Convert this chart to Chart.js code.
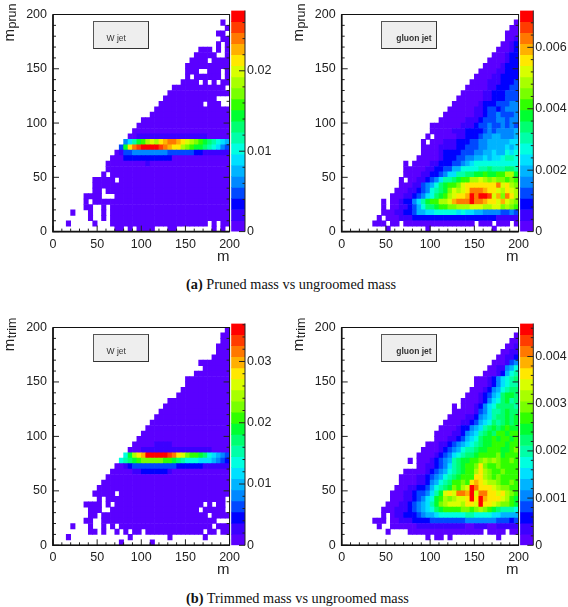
<!DOCTYPE html>
<html><head><meta charset="utf-8">
<script src="https://cdn.jsdelivr.net/npm/chart.js@4"></script>
<style>
html,body{margin:0;padding:0;background:#fff;width:568px;height:607px;overflow:hidden}
canvas{position:absolute}
.ytitle{position:absolute;writing-mode:vertical-rl;transform:rotate(180deg);font:15px "Liberation Sans",sans-serif;color:#222;white-space:nowrap;line-height:15px}
.ytitle span{font-size:12.5px;position:relative;left:-3px}
.box{position:absolute;box-sizing:border-box;background:#eee;border:1px solid #555;border-right:1.5px solid #333;border-bottom:1.5px solid #333;font:8.5px "Liberation Sans",sans-serif;color:#333;height:28px;width:56px}
.box b,.box i{position:absolute;top:11px;font-style:normal;white-space:nowrap}
.cap{position:absolute;font:14.3px "Liberation Serif",serif;color:#111;white-space:nowrap}
</style></head><body>
<script>
const BIN = 5;
const TICKS_MAJOR = [0, 50, 100, 150, 200];
const TICKS_MINOR = [10, 20, 30, 40, 60, 70, 80, 90, 110, 120, 130, 140, 160, 170, 180, 190];
const PALETTE = ['#5a00ff','#3c00ff','#0000ff','#0048ff','#0088ff','#00b4ff','#00e0ff','#00ffe0','#00ffa8','#00ff70',
                 '#00ff30','#30ff00','#78ff00','#a8ff00','#d8ff00','#ffe800','#ffb000','#ff7800','#ff3c00','#ff0000'];
// Cell levels, one string per m-groomed row from 195-200 down to 0-5, one char per m bin; "." = empty.
const W_PRUN = [
".......... .......... .......... ..........",
".......... .......... .......... ........0.",
".......... .......... .......... .........0",
".......... .......... .......... .......00.",
".......... .......... .......... ........00",
".......... .......... .......... .......0.0",
".......... .......... .......... ...000.0.0",
".......... .......... .......... ..00000..0",
".......... .......... .......... .0000.0000",
".......... .......... .......... 0000000000",
".......... .......... .......... 000..000.0",
".......... .......... .......... 0.000000.0",
".......... .......... .........0 000.0.0.00",
".......... .......... .......000 000000000.",
".......... .......... ......0000 0000000000",
".......... .......... .....00000 0000000...",
".......... .......... ....000000 0000.000..",
".......... .......... ...0000000 0000000000",
".......... .......... ..00000000 0000000000",
".......... .......... 0000000000 0000000000",
".......... .........0 0000000000 0000000000",
".......... ........00 0000000000 0000000000",
".......... .......001 1111111111 1111100000",
".......... ......468a bdedfghhgf edcba98765",
".......... .....3afhi jjjjihgffd cbaa987643",
".......... ....013344 4444443333 3322111111",
".......... ...0002222 2222222000 0000000000",
".......... ..00000000 0100000000 0000000000",
".......... ..00000000 0000000000 0000000000",
".......... .0.0000000 0000000000 0000000000",
".........0 0000.00000 0000000000 0000000000",
".........0 0000000000 0000000000 0000000000",
".........0 0.00000000 0000000000 0000000000",
".......000 0...000000 0000000000 0000000000",
".......0.0 0000000000 0000000000 0000000000",
".......00. .0.0000000 0000000000 0000000000",
"....0...0. .0.0000000 0000000000 0000000000",
"........0. .0.0000000 0000000000 0000000000",
"...0.....0 ...0000000 0000000000 00000.0.00",
".......... ....00.0.0 000...00.. ......0.0."];
const G_PRUN = [
".......... .......... .......... ..........",
".......... .......... .......... .........0",
".......... .......... .......... ........00",
".......... .......... .......... .......000",
".......... .......... .......... .......001",
".......... .......... .......... ......0012",
".......... .......... .......... .....00012",
".......... .......... .......... ....000122",
".......... .......... .......... ...0000122",
".......... .......... .......... ..00001222",
".......... .......... .......... .000011222",
".......... .......... .......... 0000112222",
".......... .......... .........0 0001112223",
".......... .......... ........00 0001122233",
".......... .......... .......000 0011222333",
".......... .......... ......0000 0011222333",
".......... .......... .....00000 0122233344",
".......... .......... ....000000 1123323444",
".......... .......... ...0000000 1123343334",
".......... .......... ..00000011 1233344344",
".......... .......... 0000000111 2334334343",
".......... .......... 0000011122 2234344445",
".......... .........0 .000001122 2344554445",
".......... ........0. 0001112223 3445555566",
".......... ........00 0011112233 3445555656",
".......... ........00 0012222333 4455655767",
".......... .......000 0012223344 5565667887",
".......... ....0.0000 1122233456 7777777777",
".......... ....000001 1223355777 7889888998",
".......... ....000011 2234668899 aabaabbdda",
".......... ...0.00112 346889abbd dedcdccbcb",
".......... ...0001134 579abbceff fffffhefdc",
".......... ..00011234 789acedefh hhgffedfed",
".......... .000112346 79abdeffgj hjjiegchfd",
".........0 .00122468a bbddeghhhj hhgffegedc",
".........0 .001123579 9abbccddde eeddeecdcb",
".........0 0011223556 6777776766 5544443343",
"........0. 0001112222 2222222222 2222211111",
".......000 .00.000000 0000000000 .000.000.0",
".......... 0........0 .......... ....0....."];
const W_TRIM = [
".......... .......... .......... .........0",
".......... .......... .......... ........00",
".......... .......... .......... ........00",
".......... .......... .......... .......000",
".......... .......... .......... .......000",
".......... .......... .......... ......0000",
".......... .......... .......... ...0000000",
".......... .......... .......... ....000000",
".......... .......... .......... ..00000000",
".......... .......... .......... 0000000000",
".......... .......... .......... 0000000000",
".......... .......... .........0 0000000000",
".......... .......... ........00 0000000000",
".......... .......... ......0000 0000000000",
".......... .......... .....00000 0000000000",
".......... .......... ....000000 0000000000",
".......... .......... ...0000000 0000000000",
".......... .......... ..00000000 0000000000",
".......... .......... .000000000 0000000000",
".......... .......... 0000000000 0000000000",
".......... .........0 0000000000 0000000000",
".......... ........00 0001111000 0000000000",
".......... .......000 1111111111 1111110000",
".......... ......7adf gjjjjjihfe cbba976543",
".......... .....789ab cccccbba98 7776665432",
".......... ....001233 3333333322 2222111111",
".......... ...0000011 2222221000 0000000000",
".......... ..00000000 0000000000 0000000000",
".......... .000000000 0000000000 0000000000",
".......... 0000000000 0000000000 0000000000",
".........0 0000.00000 0000000000 0000000000",
".......... 0.00000000 0000000000 000000000.",
".......000 0.0.000000 0000000000 0000.0.00.",
"........00 0..0000000 0000000000 000.00000.",
"........00 .000000000 0000000000 00000.0000",
".......00. .000000000 0000000000 0000000...",
"....0...0. .0.0.00000 0000000000 000000.000",
"........00 .0..0.0.00 .000000000 0000.00.00",
"...0...... .......0.. ......0... ....0.....",
".......... .....0.... ..0....... .........."];
const G_TRIM = [
".......... .......... .......... ..........",
".......... .......... .......... .........0",
".......... .......... .......... ........00",
".......... .......... .......... .......001",
".......... .......... .......... ......0011",
".......... .......... .......... .....00112",
".......... .......... .......... ....000134",
".......... .......... .......... ...0011457",
".......... .......... .......... ..00012578",
".......... .......... .......... 0001246789",
".......... .......... .......... 0001246788",
".......... .......... .........0 0012457899",
".......... .......... ........00 0123569aa9",
".......... .......... .......000 0124679a89",
".......... .......... .....0.000 1246799998",
".......... .......... .....00000 1346889a99",
".......... .......... ....000011 2456899a9a",
".......... .......... ...0000112 3567989a9a",
".......... .......... ..00001224 5689a9abaa",
".......... .......... .000011245 689a9bbabb",
".......... .......... .000112356 79aababbab",
".......... .........0 0011234567 89aabbbabb",
".......... ........00 0012345788 9aabbbaabc",
".......... .......000 0123467899 abbbbcabbb",
".......... .....0.000 1234589aab bcdcdcbbcb",
".......... .......001 1234689abb cfcbbcbbbb",
".......... ....000001 2345789abb dfdcbbcbbb",
".......... ...0000112 345789abbb ffdcbcbbbb",
".......... ...0000112 45789bbcbf gfeddcbbcb",
".......... ..00011223 5789acbdej hfffedccbb",
".......... .000112334 68aefehhgj ehhffefdcb",
".......... .000112346 7abdcdeefj fjgfffedba",
".......... 0001123456 8acdeeedff ejffedccba",
".........0 0011123456 79abbbbccb cdcba98887",
".........0 .011222345 5677777788 7777665555",
".......000 .001112222 3333333344 4444433323",
"........0. .000000111 1111111100 1110011111",
".......... 0....00000 0000000000 00.0000.00",
".......... .........0 .00.0..... .....0....",
".......... .......... .......... .........."];

const Z_W_PRUN = [0, 0.01, 0.02];
const Z_G_PRUN = [0, 0.002, 0.004, 0.006];
const Z_W_TRIM = [0, 0.01, 0.02, 0.03];
const Z_G_TRIM = [0, 0.001, 0.002, 0.003, 0.004];

const PANELS = [
 {rows:W_PRUN, zMax:0.0275, zTicks:Z_W_PRUN, zStep:0.01, l:53,  r:230.8,t:7,    b:231.6, cr:245,   sub:'prun', label:'W jet',     bold:false},
 {rows:G_PRUN, zMax:0.0072, zTicks:Z_G_PRUN, zStep:0.002,l:341.7,r:519.7,t:7,    b:231.6, cr:533.3, sub:'prun', label:'gluon jet', bold:true},
 {rows:W_TRIM, zMax:0.0362, zTicks:Z_W_TRIM, zStep:0.01, l:53,  r:230.8,t:320.7,b:545.3, cr:245,   sub:'trim', label:'W jet',     bold:false},
 {rows:G_TRIM, zMax:0.0047, zTicks:Z_G_TRIM, zStep:0.001,l:341.7,r:519.7,t:320.7,b:545.3, cr:533.3, sub:'trim', label:'gluon jet', bold:true}
];
const CAPTIONS = [
 {bold:'(a)', text:' Pruned mass vs ungroomed mass', x:186, y:275.5},
 {bold:'(b)', text:' Trimmed mass vs ungroomed mass', x:186, y:589.5}
];
const LEVELS = '0123456789abcdefghij';
Chart.defaults.font.family = '"Liberation Sans", sans-serif';
Chart.defaults.color = '#222';

function addCanvas(l, t, w, h){
  const c = document.createElement('canvas');
  c.width = w; c.height = h;
  c.style.left = l+'px'; c.style.top = t+'px';
  c.style.width = w+'px'; c.style.height = h+'px';
  document.body.appendChild(c);
  return c;
}
function decode(p){
  const cells = [], colors = [];
  p.rows.forEach((row, k) => {
    const s = row.replace(/\s/g,'');
    const j = p.rows.length - 1 - k;
    for (let i = 0; i < s.length; i++){
      const lev = LEVELS.indexOf(s[i]);
      if (lev < 0) continue;
      cells.push({x:(i+0.5)*BIN, y:[j*BIN,(j+1)*BIN], z:(lev+0.5)/20*p.zMax});
      colors.push(PALETTE[lev]);
    }
  });
  return {cells, colors};
}
const frameTicks = {
  id:'frameTicks',
  afterDatasetsDraw(ch){
    const {ctx, chartArea:a, scales:{x,y}} = ch;
    ctx.save();
    ctx.strokeStyle = '#222'; ctx.lineWidth = 1;
    const tick = (vals, len) => {
      ctx.beginPath();
      vals.forEach(v => {
        const py = y.getPixelForValue(v), px = x.getPixelForValue(v);
        ctx.moveTo(a.left,py); ctx.lineTo(a.left+len,py);
        ctx.moveTo(a.right,py); ctx.lineTo(a.right-len,py);
        ctx.moveTo(px,a.bottom); ctx.lineTo(px,a.bottom-len);
      });
      ctx.stroke();
    };
    tick(TICKS_MAJOR, 6); tick(TICKS_MINOR, 3);
    ctx.strokeStyle = '#111'; ctx.lineWidth = 1;
    ctx.strokeRect(a.left, a.top, a.right-a.left, a.bottom-a.top);
    ctx.lineWidth = 1.6;
    ctx.beginPath(); ctx.moveTo(a.left,a.top); ctx.lineTo(a.left,a.bottom); ctx.lineTo(a.right,a.bottom); ctx.stroke();
    ctx.restore();
  }
};
const barTicks = {
  id:'barTicks',
  afterDatasetsDraw(ch){
    const {ctx, chartArea:a, scales:{y}} = ch;
    const step = ch.options.plugins.barTicks.step;
    ctx.save(); ctx.strokeStyle = '#222'; ctx.lineWidth = 1;
    ctx.beginPath(); ctx.moveTo(a.right,a.top); ctx.lineTo(a.right,a.bottom); 
    for (let k = 0; k*step/5 <= y.max; k++){
      const py = y.getPixelForValue(k*step/5), len = k%5===0 ? 6 : 2.5;
      ctx.moveTo(a.right,py); ctx.lineTo(a.right-len,py);
    }
    ctx.stroke(); ctx.restore();
  }
};
function drawPanel(p){
  const padL = 36, padT = 6, padR = 14, axisH = 34;
  const cl = p.l - padL, ci = Math.floor(cl), offs = cl - ci;
  const plotW = p.r-p.l, plotH = p.b-p.t;
  const ct = Math.floor(p.t - padT), offT = p.t - padT - ct;
  const W = Math.ceil(offs+padL+plotW+padR), H = Math.ceil(offT+padT+plotH+axisH);
  const {cells, colors} = decode(p);
  new Chart(addCanvas(ci, ct, W, H), {
    type:'bar',
    data:{datasets:[{data:cells, backgroundColor:colors, borderWidth:0, barPercentage:1, categoryPercentage:1}]},
    options:{
      responsive:false, animation:false, events:[],
      layout:{padding:{left:offs, top:offT+padT, right:W-offs-padL-plotW, bottom:H-offT-padT-plotH-axisH}},
      plugins:{legend:{display:false}, tooltip:{enabled:false}},
      scales:{
        x:{type:'linear', offset:false, min:0, max:200, grid:{display:false, drawTicks:false}, border:{display:false},
           afterFit:s=>{s.height=axisH;},
           afterBuildTicks:s=>{s.ticks=TICKS_MAJOR.map(v=>({value:v}));},
           ticks:{maxRotation:0, autoSkip:false, padding:5, font:{size:12.5}},
           title:{display:true, text:'m', align:'end', font:{size:15}, padding:0, color:'#222'}},
        y:{type:'linear', min:0, max:200, grid:{display:false, drawTicks:false}, border:{display:false},
           afterFit:s=>{s.width=padL;},
           afterBuildTicks:s=>{s.ticks=TICKS_MAJOR.map(v=>({value:v}));},
           ticks:{autoSkip:false, padding:6, font:{size:12.5}}}
      }
    },
    plugins:[frameTicks]
  });
  // colour scale
  const bl = p.r + 0.4, bi = Math.floor(bl), bOff = bl - bi, barW = p.cr - bl, cw = 34;
  const Wb = Math.ceil(bOff+barW+cw), padB = 10;
  const bands = PALETTE.map((c,k)=>({x:'z', y:[k/20*p.zMax,(k+1)/20*p.zMax]}));
  new Chart(addCanvas(bi, ct, Wb, Math.ceil(offT+padT+plotH+padB)), {
    type:'bar',
    data:{labels:['z'], datasets:[{data:bands, backgroundColor:PALETTE, borderWidth:0, barPercentage:1, categoryPercentage:1}]},
    options:{
      responsive:false, animation:false, events:[],
      layout:{padding:{left:bOff, top:offT+padT, right:Wb-bOff-barW-cw, bottom:Math.ceil(offT+padT+plotH+padB)-offT-padT-plotH}},
      plugins:{legend:{display:false}, tooltip:{enabled:false}, barTicks:{step:p.zStep}},
      scales:{
        x:{display:false},
        y:{position:'right', min:0, max:p.zMax, grid:{display:false, drawTicks:false}, border:{display:false},
           afterFit:s=>{s.width=cw;},
           afterBuildTicks:s=>{s.ticks=p.zTicks.map(v=>({value:v}));},
           ticks:{autoSkip:false, padding:2, font:{size:12.5}, callback:v=>String(v)}}
      }
    },
    plugins:[barTicks]
  });
  // y title
  const t = document.createElement('div');
  t.className = 'ytitle';
  t.innerHTML = 'm<span>'+p.sub+'</span>';
  t.style.left = (p.l-52)+'px';
  t.style.top = (p.t-3)+'px';
  document.body.appendChild(t);
  // label box
  const b = document.createElement('div');
  b.className = 'box';
  b.style.left = (p.l+39.5)+'px';
  b.style.top = (p.t+13.5)+'px';
  const inner = document.createElement(p.bold?'b':'i');
  inner.textContent = p.label;
  inner.style.left = p.bold ? '14px' : '13px';
  b.appendChild(inner);
  document.body.appendChild(b);
}
PANELS.forEach(drawPanel);
CAPTIONS.forEach(c=>{
  const d = document.createElement('div');
  d.className = 'cap';
  d.style.left = c.x+'px'; d.style.top = c.y+'px';
  d.innerHTML = '<b>'+c.bold+'</b>'+c.text;
  document.body.appendChild(d);
});
</script>
</body></html>
